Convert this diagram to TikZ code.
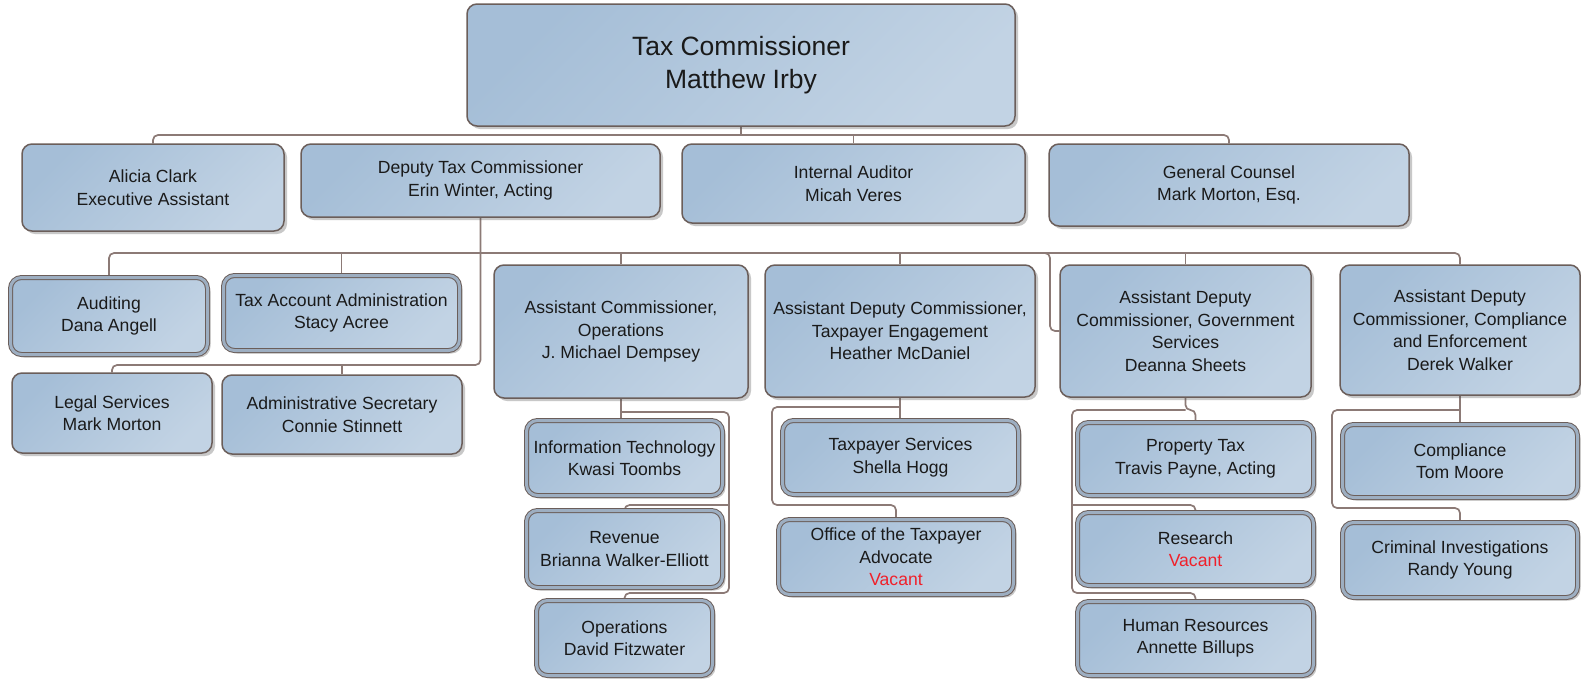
\documentclass[tikz,border=0pt]{standalone}
\usepackage{fontspec}
\setmainfont{Liberation Sans}
\usetikzlibrary{shadows,backgrounds}
\definecolor{bxA}{HTML}{A5BED7}
\definecolor{bxB}{HTML}{C2D3E4}
\definecolor{bord}{HTML}{6B5E5A}
\definecolor{gapc}{HTML}{9DAEC1}
\definecolor{cn}{HTML}{8C7A76}
\definecolor{vac}{HTML}{F0202A}
\definecolor{txt}{HTML}{1A1A1A}
\tikzset{
  basebox/.style={rounded corners=10pt, top color=bxA, bottom color=bxB, shading angle=45,
    draw=bord, align=center, inner sep=0pt, text=txt,
    font=\fontsize{17.6}{22.5}\selectfont,
    drop shadow={shadow xshift=3pt, shadow yshift=-3pt, opacity=0.3, fill=black!70}},
  sbox/.style={basebox, line width=1.5pt},
  dbox/.style={basebox, line width=1pt, double=gapc, double distance=3pt, rounded corners=11pt},
  conn/.style={draw=cn, line width=1.7pt, rounded corners=5pt},
}
\begin{document}
\begin{tikzpicture}[x=1pt,y=-1pt]
\useasboundingbox (0,0) rectangle (1581,683);
% top
\node[sbox, minimum width=548pt, minimum height=122pt, font=\fontsize{26.5}{33.5}\selectfont] (tc) at (741,65) {Tax Commissioner\\Matthew Irby};
% row 2
\node[sbox, minimum width=262pt, minimum height=87pt] (alicia) at (153,187.5) {Alicia Clark\\Executive Assistant};
\node[sbox, minimum width=359pt, minimum height=73pt] (deputy) at (480.5,180.5) {Deputy Tax Commissioner\\Erin Winter, Acting};
\node[sbox, minimum width=343pt, minimum height=79pt] (auditor) at (853.5,183.5) {Internal Auditor\\Micah Veres};
\node[sbox, minimum width=360pt, minimum height=82pt] (counsel) at (1229,185) {General Counsel\\Mark Morton, Esq.};
% deputy staff
\node[dbox, minimum width=197pt, minimum height=77pt] (auditing) at (109,316) {Auditing\\Dana Angell};
\node[dbox, minimum width=236pt, minimum height=75pt] (taxacct) at (341.5,313) {Tax Account Administration\\Stacy Acree};
\node[sbox, minimum width=200pt, minimum height=80pt] (legal) at (112,413) {Legal Services\\Mark Morton};
\node[sbox, minimum width=240pt, minimum height=79pt] (adminsec) at (342,414.5) {Administrative Secretary\\Connie Stinnett};
% row 3 heads
\node[sbox, minimum width=254pt, minimum height=133pt] (ops) at (621,331.5) {Assistant Commissioner,\\Operations\\J. Michael Dempsey};
\node[sbox, minimum width=270pt, minimum height=132pt] (te) at (900,331) {Assistant Deputy Commissioner,\\Taxpayer Engagement\\Heather McDaniel};
\node[sbox, minimum width=251pt, minimum height=132pt] (gov) at (1185.5,331) {Assistant Deputy\\Commissioner, Government\\Services\\Deanna Sheets};
\node[sbox, minimum width=240pt, minimum height=130pt] (comp) at (1460,330) {Assistant Deputy\\Commissioner, Compliance\\and Enforcement\\Derek Walker};
% ops children
\node[dbox, minimum width=196pt, minimum height=75pt] (it) at (624.5,458) {Information Technology\\Kwasi Toombs};
\node[dbox, minimum width=196pt, minimum height=77pt] (rev) at (624.5,549) {Revenue\\Brianna Walker-Elliott};
\node[dbox, minimum width=176pt, minimum height=75pt] (opsd) at (624.5,638) {Operations\\David Fitzwater};
% te children
\node[dbox, minimum width=236pt, minimum height=74pt] (ts) at (900.5,457.5) {Taxpayer Services\\Shella Hogg};
\node[dbox, minimum width=235pt, minimum height=75pt] (ota) at (896,557) {Office of the Taxpayer\\Advocate\\\textcolor{vac}{Vacant}};
% gov children
\node[dbox, minimum width=236pt, minimum height=73pt] (pt) at (1195.5,459) {Property Tax\\Travis Payne, Acting};
\node[dbox, minimum width=236pt, minimum height=73pt] (res) at (1195.5,549) {Research\\\textcolor{vac}{Vacant}};
\node[dbox, minimum width=236pt, minimum height=74pt] (hr) at (1195.5,638.5) {Human Resources\\Annette Billups};
% comp children
\node[dbox, minimum width=235pt, minimum height=73pt] (cmp) at (1460,461) {Compliance\\Tom Moore};
\node[dbox, minimum width=235pt, minimum height=75pt] (crim) at (1460,560) {Criminal Investigations\\Randy Young};

\begin{pgfonlayer}{background}
\fill[white] (0,0) rectangle (1581,683);
% level 1
\coordinate (b1) at (741,135);
\draw[conn] (tc.south) -- (b1);
\draw[conn] (alicia.north) |- (b1);
\draw[conn] (counsel.north) |- (b1);
\draw[conn] (auditor.north) -- (auditor.north |- b1);
% deputy
\coordinate (b2) at (480.5,253);
\coordinate (b3) at (480.5,365);
\draw[conn] (deputy.south) -- (b3) -| (legal.north);
\draw[conn] (adminsec.north) -- (adminsec.north |- b3);
\draw[conn] (auditing.north) |- (b2);
\draw[conn] (comp.north) |- (b2);
\draw[conn] (taxacct.north) -- (taxacct.north |- b2);
\draw[conn] (ops.north) -- (ops.north |- b2);
\draw[conn] (te.north) -- (te.north |- b2);
\draw[conn] (gov.north) -- (gov.north |- b2);
\coordinate (gs) at (1050,253);
\coordinate (gsl) at (1038,253);
\draw[conn] (gov.west) -| (gs) -- (gsl);
% ops
\coordinate (oj) at (621,412);
\coordinate (orl) at (729,505);
\coordinate (orb) at (729,593);
\draw[conn] (ops.south) -- (ops.south |- it.north);
\draw[conn] (oj) -| (orb) -| (opsd.north);
\draw[conn] (orl) -| (rev.north);
% te
\coordinate (tj) at (900,407);
\coordinate (trl) at (772,505);
\draw[conn] (te.south) -- (te.south |- ts.north);
\draw[conn] (tj) -| (trl) -| (ota.north);
% gov
\coordinate (gj) at (1185.5,410);
\coordinate (grl) at (1072,505);
\coordinate (grb) at (1072,593);
\draw[conn] (gov.south) -- (gj) -| (pt.north);
\draw[conn] (gj) -| (grb) -| (hr.north);
\draw[conn] (grl) -| (res.north);
% comp
\coordinate (cj) at (1460,410);
\coordinate (crb) at (1332,508);
\draw[conn] (comp.south) -- (cmp.north);
\draw[conn] (cj) -| (crb) -| (crim.north);
\end{pgfonlayer}
\end{tikzpicture}
\end{document}
